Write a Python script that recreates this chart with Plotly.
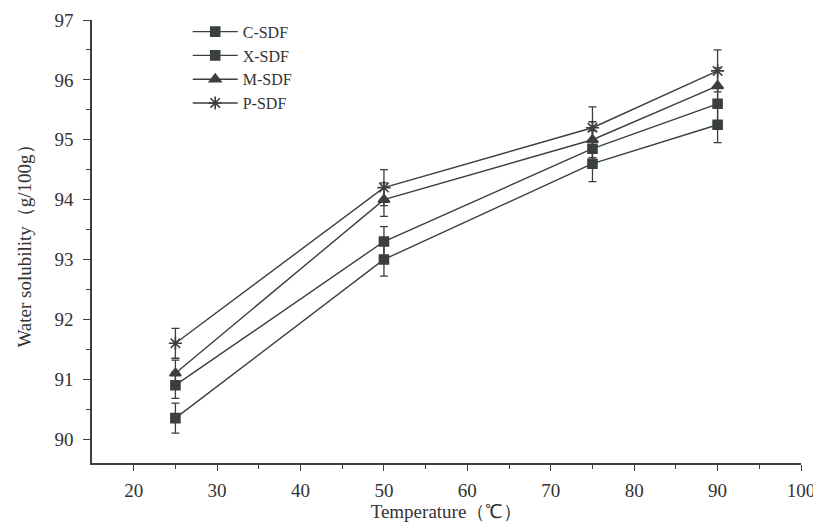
import plotly.graph_objects as go

temperature = [25, 50, 75, 90]
series_names = ["C-SDF", "X-SDF", "M-SDF", "P-SDF"]
c_sdf = [90.90, 93.30, 94.85, 95.60]
x_sdf = [90.35, 93.00, 94.60, 95.25]
m_sdf = [91.10, 94.00, 95.00, 95.90]
p_sdf = [91.60, 94.20, 95.20, 96.15]
c_err = [0.22, 0.25, 0.30, 0.30]
x_err = [0.25, 0.28, 0.30, 0.30]
m_err = [0.22, 0.28, 0.30, 0.30]
p_err = [0.25, 0.30, 0.35, 0.35]
x_ticks = [20, 30, 40, 50, 60, 70, 80, 90, 100]
y_ticks = [90, 91, 92, 93, 94, 95, 96, 97]

values = [c_sdf, x_sdf, m_sdf, p_sdf]
errors = [c_err, x_err, m_err, p_err]
symbols = ["square", "square", "triangle-up", "asterisk-open"]
sizes = [9, 9, 10, 11]
line_color = "#3a3f3f"

fig = go.Figure()
for name, vals, errs, sym, sz in zip(series_names, values, errors, symbols, sizes):
    fig.add_trace(go.Scatter(
        x=temperature, y=vals, name=name, mode="lines+markers",
        line=dict(color=line_color, width=1.4),
        marker=dict(symbol=sym, size=sz, color=line_color,
                    line=dict(color=line_color, width=1.6)),
        error_y=dict(type="data", array=errs, visible=True,
                     color=line_color, thickness=1.3, width=4),
    ))

font_family = "Liberation Serif, Times New Roman, serif"
# The page body has an 8px default margin, so the figure is sized to fit the window.
fig.update_layout(
    width=813, height=523,
    margin=dict(l=84, r=20, t=12, b=68, autoexpand=False),
    paper_bgcolor="white", plot_bgcolor="white",
    font=dict(family=font_family, size=19, color="#333"),
    showlegend=True,
    legend=dict(x=0.135, y=1.012, xanchor="left", yanchor="top",
                bgcolor="rgba(0,0,0,0)", font=dict(size=16),
                tracegroupgap=0, itemwidth=45),
)
fig.update_xaxes(
    range=[15, 100], tickvals=x_ticks, ticks="outside", ticklen=6,
    tickcolor=line_color, showline=True, linecolor=line_color, linewidth=1.5,
    showgrid=False, zeroline=False, ticklabelstandoff=3,
    minor=dict(tickvals=[25, 35, 45, 55, 65, 75, 85, 95], ticks="outside",
               ticklen=4, tickcolor=line_color),
    title=dict(text="Temperature（℃）", font=dict(size=19), standoff=0),
)
fig.update_yaxes(
    range=[89.6, 97], tickvals=y_ticks, ticks="outside", ticklen=7,
    tickcolor=line_color, showline=True, linecolor=line_color, linewidth=1.5,
    showgrid=False, zeroline=False, ticklabelstandoff=6,
    minor=dict(tickvals=[89.5 + 0.5 * i for i in range(1, 16) if (89.5 + 0.5 * i) % 1 != 0],
               ticks="outside", ticklen=4, tickcolor=line_color),
    title=dict(text="Water solubility（g/100g）", font=dict(size=19), standoff=18),
)
fig.write_html("out.html")
